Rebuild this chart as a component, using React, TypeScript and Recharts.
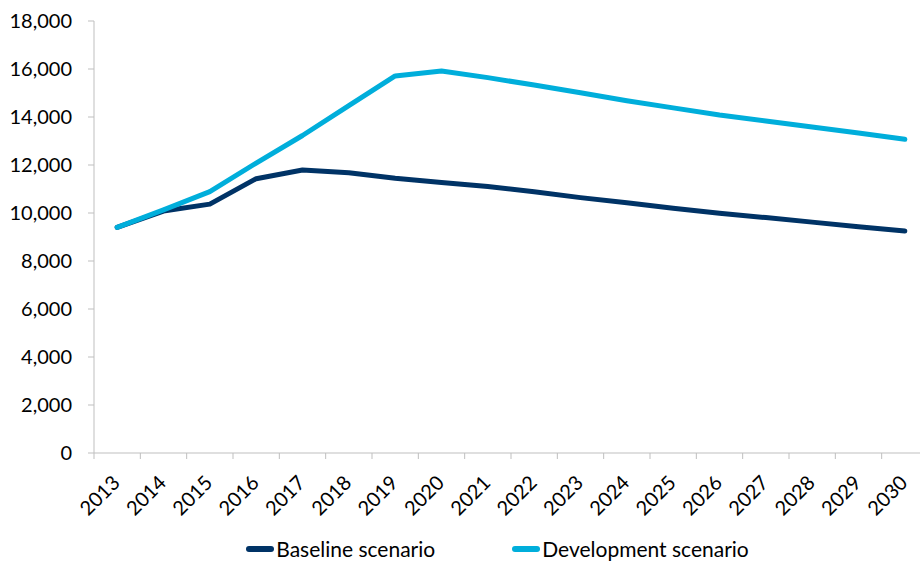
import React from 'react';
import { LineChart, Line, XAxis, YAxis, Legend } from 'recharts';

const years = ['2013','2014','2015','2016','2017','2018','2019','2020','2021','2022','2023','2024','2025','2026','2027','2028','2029','2030'];
const baseline = [9400, 10080, 10370, 11430, 11790, 11680, 11450, 11270, 11100, 10890, 10640, 10430, 10200, 9990, 9810, 9620, 9430, 9250];
const development = [9400, 10130, 10890, 12080, 13230, 14470, 15710, 15920, 15640, 15330, 15010, 14680, 14380, 14080, 13830, 13580, 13330, 13070];
const yTicks = [0, 2000, 4000, 6000, 8000, 10000, 12000, 14000, 16000, 18000];

const seriesNames = { baseline: 'Baseline scenario', development: 'Development scenario' };
const colors = { baseline: '#003366', development: '#00AEDB' };

const data = years.map((y, i) => ({ year: y, baseline: baseline[i], development: development[i] }));

const FONT = 'Lato, "Open Sans", sans-serif';
const AXIS_GRAY = '#BFBFBF';

const XTick = (props: any) => {
  const { x, y, payload } = props;
  const half = payload && typeof payload.offset === 'number' && payload.offset > 0 ? payload.offset : 23.17;
  const tx = x + 4;
  const ty = y + 25;
  return (
    <g>
      <line x1={x - half} x2={x - half} y1={y - 6} y2={y} stroke={AXIS_GRAY} strokeWidth={1} />
      <text x={tx} y={ty} textAnchor="end" transform={`rotate(-45 ${tx} ${ty})`} fontFamily={FONT} fontSize={20} fill="#000">
        {payload.value}
      </text>
    </g>
  );
};

const renderLegend = () => {
  const items = [
    { key: 'baseline', label: seriesNames.baseline, color: colors.baseline },
    { key: 'development', label: seriesNames.development, color: colors.development },
  ];
  return (
    <div style={{ display: 'flex', justifyContent: 'center', alignItems: 'center', gap: 77, fontFamily: FONT, fontSize: 21, color: '#000' }}>
      {items.map((it) => (
        <div key={it.key} style={{ display: 'flex', alignItems: 'center' }}>
          <div style={{ width: 28, height: 6, borderRadius: 3, background: it.color, marginRight: 2 }} />
          <span style={{ lineHeight: '24px' }}>{it.label}</span>
        </div>
      ))}
    </div>
  );
};

export default function App() {
  return (
    <div style={{ position: 'absolute', left: 0, top: 0, width: 920, height: 562, overflow: 'hidden', background: '#fff' }}>
      <LineChart width={940} height={562} data={data} margin={{ top: 21, right: 12, left: 0, bottom: 0 }}>
        <XAxis
          dataKey="year"
          scale="band"
          interval={0}
          height={109}
          tickSize={6}
          tickMargin={0}
          tickLine={false}
          axisLine={{ stroke: AXIS_GRAY, strokeWidth: 1 }}
          tick={<XTick />}
        />
        <YAxis
          width={94}
          domain={[0, 18000]}
          ticks={yTicks}
          interval={0}
          tickSize={6}
          tickMargin={16}
          tickLine={{ stroke: AXIS_GRAY }}
          axisLine={{ stroke: AXIS_GRAY, strokeWidth: 1 }}
          tickFormatter={(v: number) => v.toLocaleString('en-US')}
          tick={{ fontFamily: FONT, fontSize: 20, fill: '#000' }}
        />
        <Legend
          layout="horizontal"
          verticalAlign="middle"
          align="center"
          wrapperStyle={{ top: 537, left: 150, width: 695 }}
          content={renderLegend}
        />
        <Line type="linear" dataKey="baseline" name={seriesNames.baseline} stroke={colors.baseline} strokeWidth={5} strokeLinecap="round" strokeLinejoin="round" dot={false} activeDot={false} isAnimationActive={false} />
        <Line type="linear" dataKey="development" name={seriesNames.development} stroke={colors.development} strokeWidth={5} strokeLinecap="round" strokeLinejoin="round" dot={false} activeDot={false} isAnimationActive={false} />
      </LineChart>
    </div>
  );
}
